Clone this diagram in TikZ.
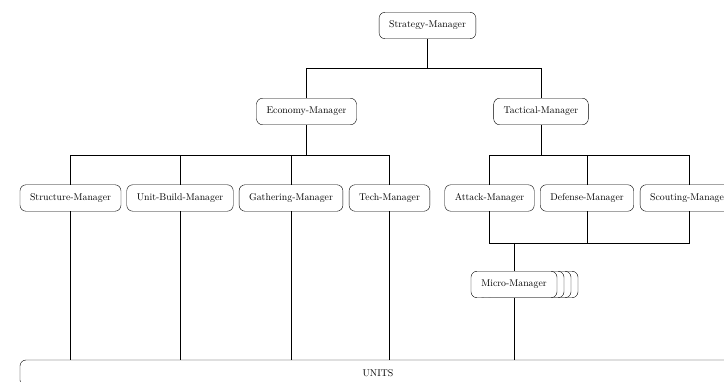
\documentclass[tikz,border=0pt]{standalone}
\usepackage{tikz}
\begin{document}
\begin{tikzpicture}[x=1pt,y=-1pt,
  mgr/.style={draw, line width=0.4pt, rounded corners=6pt, fill=white, inner xsep=10pt, inner ysep=0pt,
    minimum height=26.5pt, font=\fontsize{9.8pt}{12pt}\selectfont},
  conn/.style={draw, line width=0.45pt}]
\useasboundingbox (0,0) rectangle (724,382);
% units
\node[mgr, minimum width=716pt, minimum height=26pt] (units) at (378,373) {UNITS};
% top
\node[mgr] (strat) at (427.5,25.5) {Strategy-Manager};
\node[mgr] (econ) at (306.5,111.5) {Economy-Manager};
\node[mgr] (tact) at (541,111.5) {Tactical-Manager};
% level 3
\node[mgr] (struct) at (70.5,198) {Structure-Manager};
\node[mgr] (unitb) at (180,198) {Unit-Build-Manager};
\node[mgr] (gath) at (291,198) {Gathering-Manager};
\node[mgr] (tech) at (389.5,198) {Tech-Manager};
\node[mgr] (attack) at (489.5,198) {Attack-Manager};
\node[mgr] (defense) at (587,198) {Defense-Manager};
\node[mgr] (scout) at (689,198) {Scouting-Manager};
% micro with stacked copies
\node[mgr, minimum width=86pt] (micro3) at (535,284.5) {};
\node[mgr, minimum width=86pt] (micro2) at (528,284.5) {};
\node[mgr, minimum width=86pt] (micro1) at (521,284.5) {};
\node[mgr, minimum width=86pt] (micro) at (514,284.5) {Micro-Manager};
% junctions
\coordinate (j1) at (427.5,68);
\coordinate (j2) at (306.5,155);
\coordinate (j3) at (541,155);
\coordinate (j4) at (514,243);
\draw[conn] (strat.south) -- (j1);
\draw[conn] (j1) -| (econ.north);
\draw[conn] (j1) -| (tact.north);
\draw[conn] (econ.south) -- (j2);
\draw[conn] (j2) -| (struct.north);
\draw[conn] (j2) -| (unitb.north);
\draw[conn] (j2) -| (gath.north);
\draw[conn] (j2) -| (tech.north);
\draw[conn] (tact.south) -- (j3);
\draw[conn] (j3) -| (attack.north);
\draw[conn] (j3) -| (defense.north);
\draw[conn] (j3) -| (scout.north);
\draw[conn] (attack.south) |- (j4);
\draw[conn] (defense.south) |- (j4);
\draw[conn] (scout.south) |- (j4);
\draw[conn] (j4) -- (micro.north);
\draw[conn] (struct.south) -- (struct.south |- units.north);
\draw[conn] (unitb.south) -- (unitb.south |- units.north);
\draw[conn] (gath.south) -- (gath.south |- units.north);
\draw[conn] (tech.south) -- (tech.south |- units.north);
\draw[conn] (micro.south) -- (micro.south |- units.north);
\end{tikzpicture}
\end{document}
